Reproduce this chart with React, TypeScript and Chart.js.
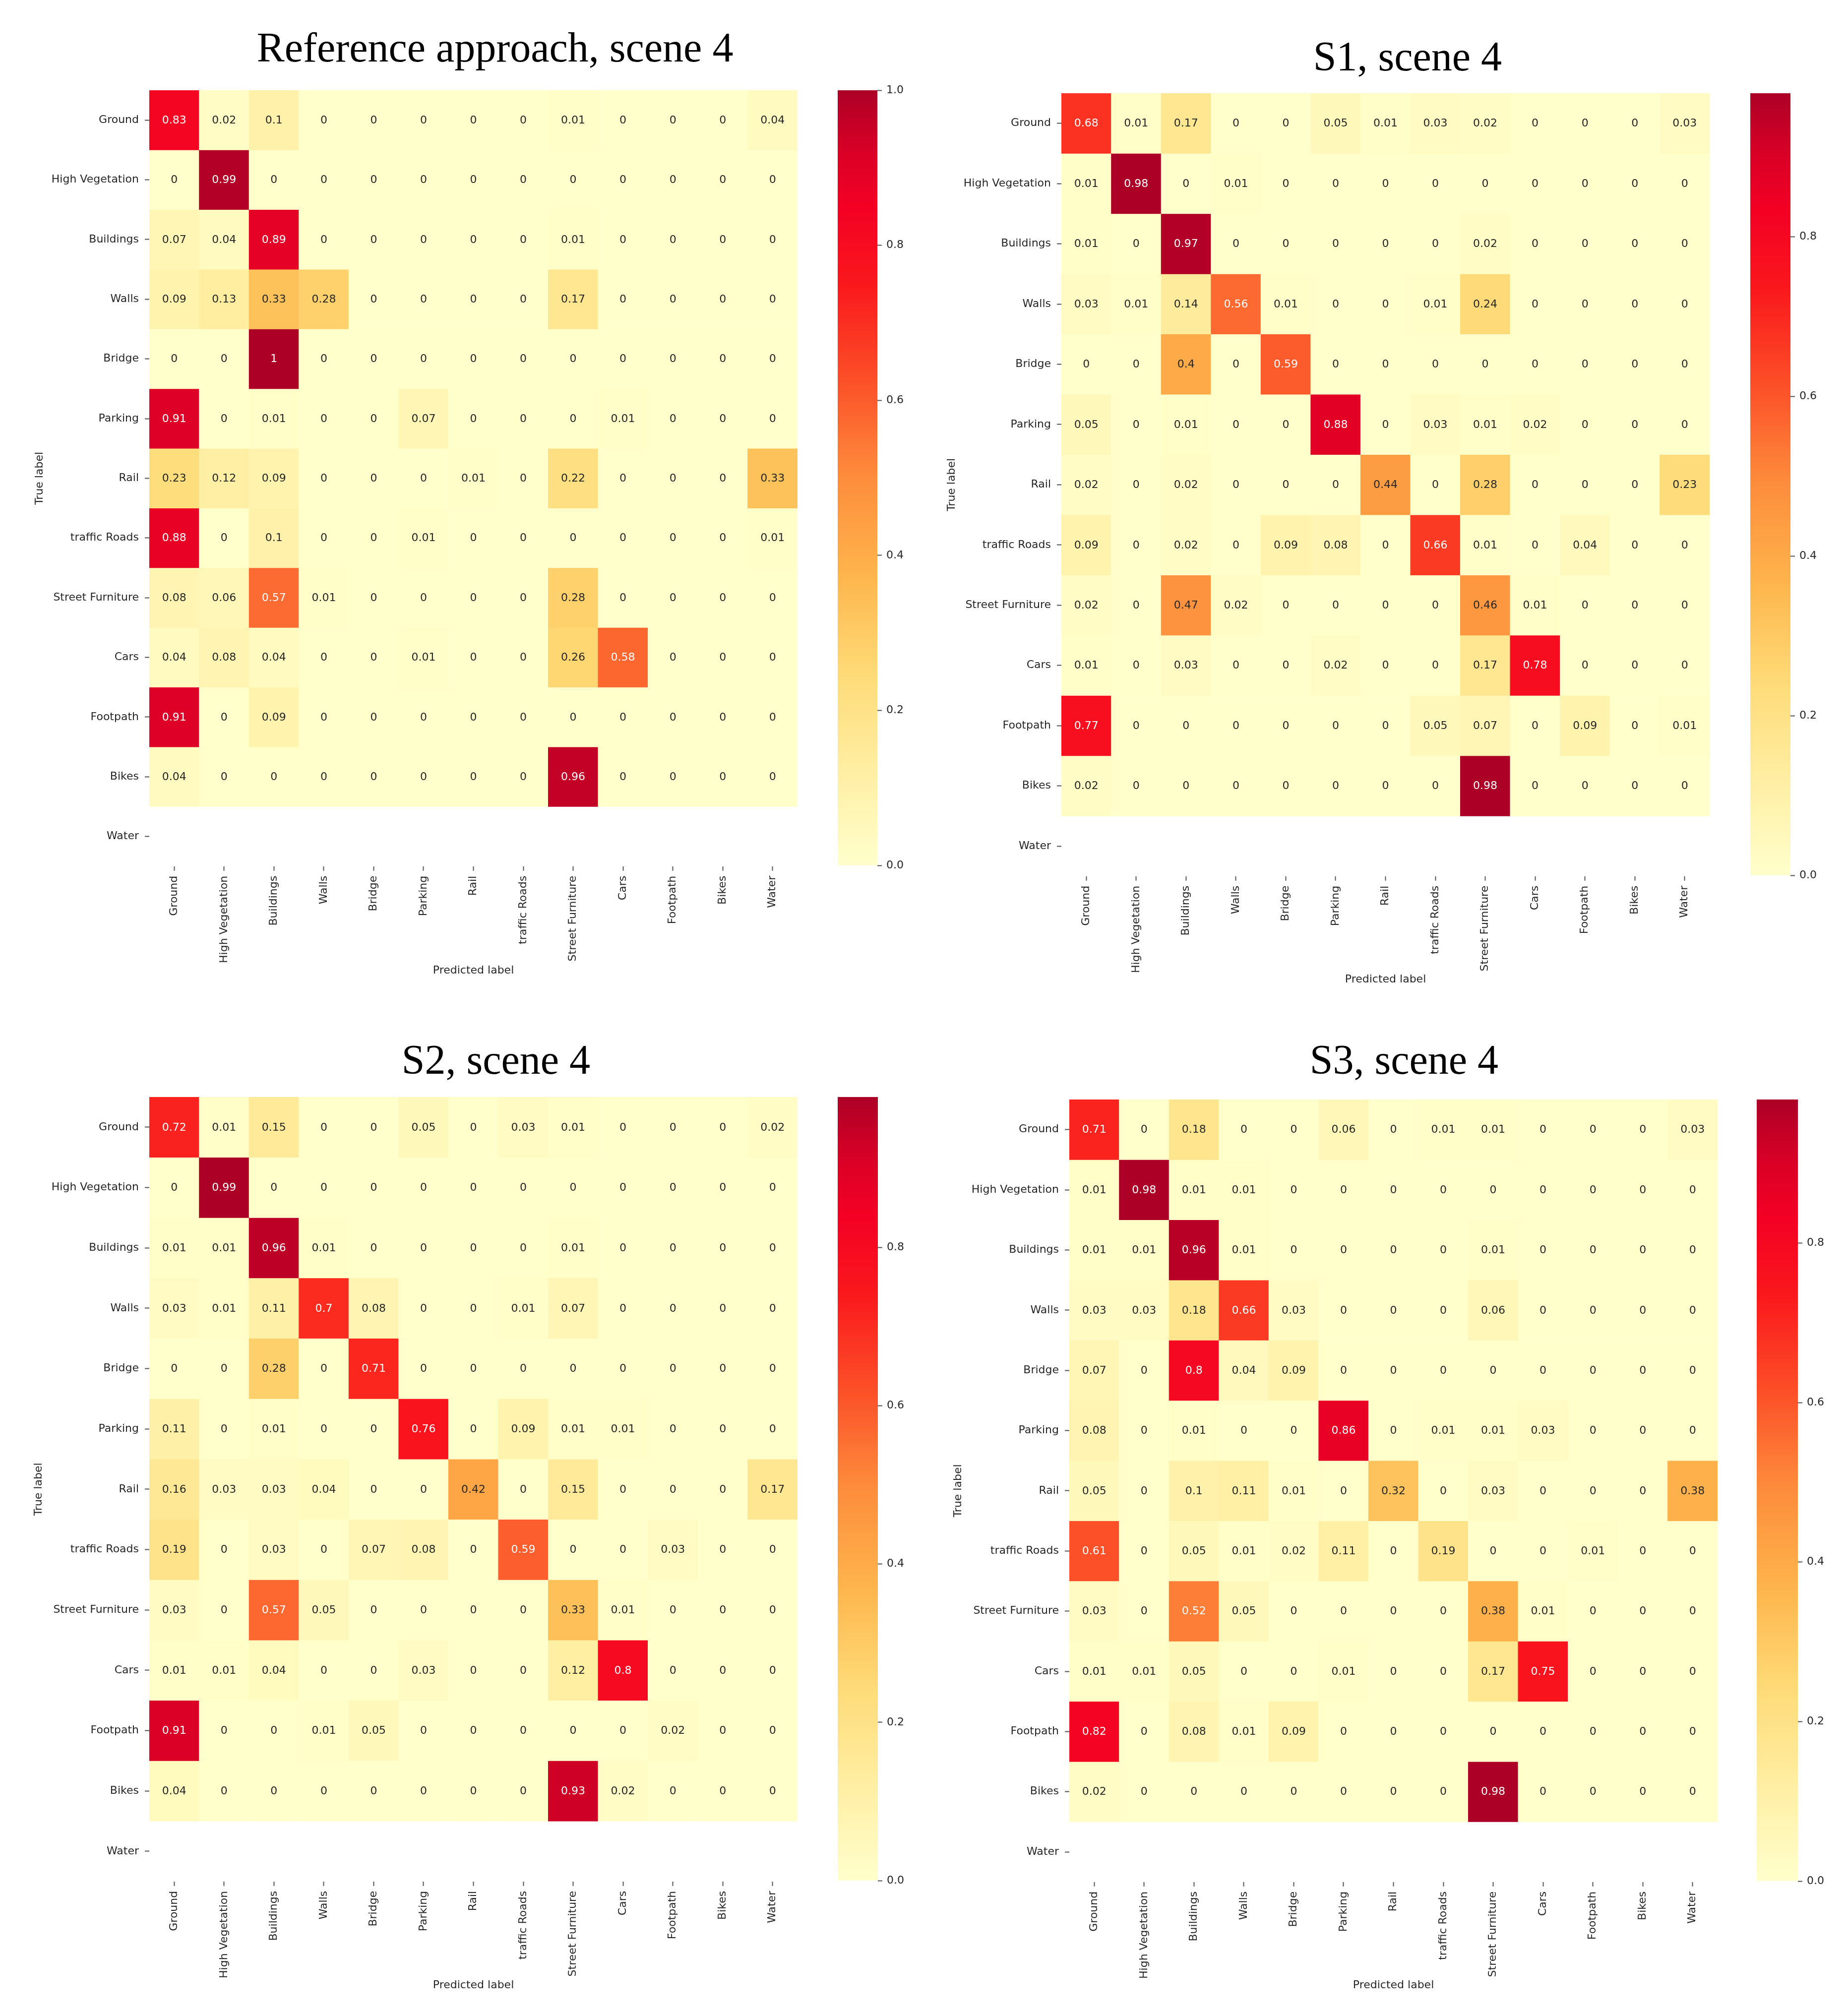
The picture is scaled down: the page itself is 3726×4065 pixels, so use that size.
import React, { useEffect, useRef } from 'react';
import { Chart, registerables } from 'chart.js';

Chart.register(...registerables);
Chart.defaults.font.family = '"DejaVu Sans", sans-serif';

// ---------------- data ----------------
const TRUE_LABELS = ['Ground', 'High Vegetation', 'Buildings', 'Walls', 'Bridge', 'Parking', 'Rail', 'traffic Roads', 'Street Furniture', 'Cars', 'Footpath', 'Bikes', 'Water'];
const PRED_LABELS = ['Ground', 'High Vegetation', 'Buildings', 'Walls', 'Bridge', 'Parking', 'Rail', 'traffic Roads', 'Street Furniture', 'Cars', 'Footpath', 'Bikes', 'Water'];

const TITLES = ['Reference approach, scene 4', 'S1, scene 4', 'S2, scene 4', 'S3, scene 4'];
const X_AXIS_TITLE = 'Predicted label';
const Y_AXIS_TITLE = 'True label';
const COLORBAR_STEP = 0.2;

// rows = true labels (Water row has no samples), columns = predicted labels
const REF_SCENE4 = [
  [0.83, 0.02, 0.1, 0, 0, 0, 0, 0, 0.01, 0, 0, 0, 0.04],
  [0, 0.99, 0, 0, 0, 0, 0, 0, 0, 0, 0, 0, 0],
  [0.07, 0.04, 0.89, 0, 0, 0, 0, 0, 0.01, 0, 0, 0, 0],
  [0.09, 0.13, 0.33, 0.28, 0, 0, 0, 0, 0.17, 0, 0, 0, 0],
  [0, 0, 1, 0, 0, 0, 0, 0, 0, 0, 0, 0, 0],
  [0.91, 0, 0.01, 0, 0, 0.07, 0, 0, 0, 0.01, 0, 0, 0],
  [0.23, 0.12, 0.09, 0, 0, 0, 0.01, 0, 0.22, 0, 0, 0, 0.33],
  [0.88, 0, 0.1, 0, 0, 0.01, 0, 0, 0, 0, 0, 0, 0.01],
  [0.08, 0.06, 0.57, 0.01, 0, 0, 0, 0, 0.28, 0, 0, 0, 0],
  [0.04, 0.08, 0.04, 0, 0, 0.01, 0, 0, 0.26, 0.58, 0, 0, 0],
  [0.91, 0, 0.09, 0, 0, 0, 0, 0, 0, 0, 0, 0, 0],
  [0.04, 0, 0, 0, 0, 0, 0, 0, 0.96, 0, 0, 0, 0],
];

const S1_SCENE4 = [
  [0.68, 0.01, 0.17, 0, 0, 0.05, 0.01, 0.03, 0.02, 0, 0, 0, 0.03],
  [0.01, 0.98, 0, 0.01, 0, 0, 0, 0, 0, 0, 0, 0, 0],
  [0.01, 0, 0.97, 0, 0, 0, 0, 0, 0.02, 0, 0, 0, 0],
  [0.03, 0.01, 0.14, 0.56, 0.01, 0, 0, 0.01, 0.24, 0, 0, 0, 0],
  [0, 0, 0.4, 0, 0.59, 0, 0, 0, 0, 0, 0, 0, 0],
  [0.05, 0, 0.01, 0, 0, 0.88, 0, 0.03, 0.01, 0.02, 0, 0, 0],
  [0.02, 0, 0.02, 0, 0, 0, 0.44, 0, 0.28, 0, 0, 0, 0.23],
  [0.09, 0, 0.02, 0, 0.09, 0.08, 0, 0.66, 0.01, 0, 0.04, 0, 0],
  [0.02, 0, 0.47, 0.02, 0, 0, 0, 0, 0.46, 0.01, 0, 0, 0],
  [0.01, 0, 0.03, 0, 0, 0.02, 0, 0, 0.17, 0.78, 0, 0, 0],
  [0.77, 0, 0, 0, 0, 0, 0, 0.05, 0.07, 0, 0.09, 0, 0.01],
  [0.02, 0, 0, 0, 0, 0, 0, 0, 0.98, 0, 0, 0, 0],
];

const S2_SCENE4 = [
  [0.72, 0.01, 0.15, 0, 0, 0.05, 0, 0.03, 0.01, 0, 0, 0, 0.02],
  [0, 0.99, 0, 0, 0, 0, 0, 0, 0, 0, 0, 0, 0],
  [0.01, 0.01, 0.96, 0.01, 0, 0, 0, 0, 0.01, 0, 0, 0, 0],
  [0.03, 0.01, 0.11, 0.7, 0.08, 0, 0, 0.01, 0.07, 0, 0, 0, 0],
  [0, 0, 0.28, 0, 0.71, 0, 0, 0, 0, 0, 0, 0, 0],
  [0.11, 0, 0.01, 0, 0, 0.76, 0, 0.09, 0.01, 0.01, 0, 0, 0],
  [0.16, 0.03, 0.03, 0.04, 0, 0, 0.42, 0, 0.15, 0, 0, 0, 0.17],
  [0.19, 0, 0.03, 0, 0.07, 0.08, 0, 0.59, 0, 0, 0.03, 0, 0],
  [0.03, 0, 0.57, 0.05, 0, 0, 0, 0, 0.33, 0.01, 0, 0, 0],
  [0.01, 0.01, 0.04, 0, 0, 0.03, 0, 0, 0.12, 0.8, 0, 0, 0],
  [0.91, 0, 0, 0.01, 0.05, 0, 0, 0, 0, 0, 0.02, 0, 0],
  [0.04, 0, 0, 0, 0, 0, 0, 0, 0.93, 0.02, 0, 0, 0],
];

const S3_SCENE4 = [
  [0.71, 0, 0.18, 0, 0, 0.06, 0, 0.01, 0.01, 0, 0, 0, 0.03],
  [0.01, 0.98, 0.01, 0.01, 0, 0, 0, 0, 0, 0, 0, 0, 0],
  [0.01, 0.01, 0.96, 0.01, 0, 0, 0, 0, 0.01, 0, 0, 0, 0],
  [0.03, 0.03, 0.18, 0.66, 0.03, 0, 0, 0, 0.06, 0, 0, 0, 0],
  [0.07, 0, 0.8, 0.04, 0.09, 0, 0, 0, 0, 0, 0, 0, 0],
  [0.08, 0, 0.01, 0, 0, 0.86, 0, 0.01, 0.01, 0.03, 0, 0, 0],
  [0.05, 0, 0.1, 0.11, 0.01, 0, 0.32, 0, 0.03, 0, 0, 0, 0.38],
  [0.61, 0, 0.05, 0.01, 0.02, 0.11, 0, 0.19, 0, 0, 0.01, 0, 0],
  [0.03, 0, 0.52, 0.05, 0, 0, 0, 0, 0.38, 0.01, 0, 0, 0],
  [0.01, 0.01, 0.05, 0, 0, 0.01, 0, 0, 0.17, 0.75, 0, 0, 0],
  [0.82, 0, 0.08, 0.01, 0.09, 0, 0, 0, 0, 0, 0, 0, 0],
  [0.02, 0, 0, 0, 0, 0, 0, 0, 0.98, 0, 0, 0, 0],
];

const MATRICES = [REF_SCENE4, S1_SCENE4, S2_SCENE4, S3_SCENE4];

// ---------------- styling / layout ----------------
const CMAP_STOPS: [number, [number, number, number]][] = [
  [0.0, [255, 255, 204]],
  [0.125, [255, 238, 162]],
  [0.25, [254, 218, 118]],
  [0.375, [254, 180, 76]],
  [0.5, [253, 141, 60]],
  [0.625, [252, 80, 40]],
  [0.75, [250, 24, 28]],
  [0.85, [243, 0, 36]],
  [0.92, [218, 0, 38]],
  [1.0, [172, 0, 38]],
];

function cmap(t: number): string {
  const x = Math.max(0, Math.min(1, t));
  for (let k = 1; k < CMAP_STOPS.length; k++) {
    const [p1, c1] = CMAP_STOPS[k];
    const [p0, c0] = CMAP_STOPS[k - 1];
    if (x <= p1) {
      const f = (x - p0) / (p1 - p0);
      const c = c0.map((v, i) => Math.round(v + (c1[i] - v) * f));
      return `rgb(${c[0]},${c[1]},${c[2]})`;
    }
  }
  const c = CMAP_STOPS[CMAP_STOPS.length - 1][1];
  return `rgb(${c[0]},${c[1]},${c[2]})`;
}

const TEXT_DARK = '#262626';
const TICK_COLOR = '#555555';
const FONT = { family: '"DejaVu Sans", sans-serif', size: 22 };

const LAYOUT = [
  { L: 301, T: 182, W: 1307, H: 1563, cbL: 1689, cbW: 80, titleX: 998, titleBase: 124, yTitleX: 80, xTitleY: 1955 },
  { L: 2140, T: 188, W: 1307, H: 1577, cbL: 3529, cbW: 81, titleX: 2838, titleBase: 142, yTitleX: 1919, xTitleY: 1973 },
  { L: 301, T: 2212, W: 1307, H: 1580, cbL: 1689, cbW: 81, titleX: 1000, titleBase: 2165, yTitleX: 78, xTitleY: 4001 },
  { L: 2156, T: 2217, W: 1307, H: 1576, cbL: 3542, cbW: 83, titleX: 2831, titleBase: 2165, yTitleX: 1932, xTitleY: 4001 },
];

const PAD_T = 30;
const PAD_R = 30;

function fmt(v: number): string {
  return String(Number(v.toFixed(2)));
}

function Heatmap({ idx }: { idx: number }) {
  const ref = useRef<HTMLCanvasElement | null>(null);
  const lay = LAYOUT[idx];
  const matrix = MATRICES[idx];
  const left = lay.yTitleX - 40;
  const YW = lay.L - left;
  const XH = lay.xTitleY - (lay.T + lay.H) + 13.2;
  const width = YW + lay.W + PAD_R;
  const height = PAD_T + lay.H + Math.round(XH) + 2;

  useEffect(() => {
    const vmax = Math.max(...matrix.flat());
    const datasets = TRUE_LABELS.map((lab, i) => {
      const row = matrix[i];
      return {
        label: lab,
        data: PRED_LABELS.map(() => (row ? 1 : null)),
        backgroundColor: PRED_LABELS.map((_, j) => (row ? cmap(row[j] / vmax) : 'rgba(0,0,0,0)')),
        borderWidth: 0,
        barPercentage: 1,
        categoryPercentage: 1,
      };
    });

    const cellText = {
      id: 'cellText',
      afterDatasetsDraw(chart: any) {
        const ctx = chart.ctx;
        ctx.save();
        ctx.font = `22px ${FONT.family}`;
        ctx.textAlign = 'center';
        ctx.textBaseline = 'middle';
        chart.data.datasets.forEach((_: any, i: number) => {
          const row = matrix[i];
          if (!row) return;
          const meta = chart.getDatasetMeta(i);
          meta.data.forEach((el: any, j: number) => {
            const p = el.getProps(['x', 'y', 'base'], true);
            const v = row[j];
            ctx.fillStyle = v / vmax > 0.5 ? '#ffffff' : TEXT_DARK;
            ctx.fillText(fmt(v), p.x, (p.y + p.base) / 2 + 1);
          });
        });
        ctx.restore();
      },
    };

    const chart = new Chart(ref.current as HTMLCanvasElement, {
      type: 'bar',
      data: { labels: PRED_LABELS, datasets },
      plugins: [cellText],
      options: {
        responsive: false,
        maintainAspectRatio: false,
        animation: false,
        events: [],
        layout: { padding: { top: PAD_T, right: PAD_R, left: 0, bottom: 0 } },
        plugins: { legend: { display: false }, tooltip: { enabled: false }, title: { display: false } },
        scales: {
          x: {
            type: 'category',
            stacked: true,
            offset: true,
            grid: { display: true, offset: false, drawOnChartArea: false, drawTicks: true, tickLength: 9, tickColor: TICK_COLOR, tickWidth: 2 },
            border: { display: false },
            ticks: { autoSkip: false, minRotation: 90, maxRotation: 90, padding: 10, color: TEXT_DARK, font: FONT },
            title: { display: true, text: X_AXIS_TITLE, color: TEXT_DARK, font: FONT, padding: { top: 0, bottom: 0 } },
            afterFit: (s: any) => { s.height = XH; },
          },
          y: {
            type: 'linear',
            stacked: true,
            reverse: true,
            min: 0,
            max: TRUE_LABELS.length,
            afterBuildTicks: (s: any) => { s.ticks = TRUE_LABELS.map((_, i) => ({ value: i + 0.5 })); },
            ticks: { autoSkip: false, padding: 12, color: TEXT_DARK, font: FONT, callback: (_v: any, i: number) => TRUE_LABELS[i] },
            grid: { display: true, drawOnChartArea: false, drawTicks: true, tickLength: 9, tickColor: TICK_COLOR, tickWidth: 2 },
            border: { display: false },
            title: { display: true, text: Y_AXIS_TITLE, color: TEXT_DARK, font: FONT, padding: { top: 27, bottom: 0 } },
            afterFit: (s: any) => { s.width = YW; },
          },
        },
      } as any,
    });
    return () => chart.destroy();
  }, []);

  return (
    <canvas
      ref={ref}
      width={width}
      height={height}
      style={{ position: 'absolute', left, top: lay.T - PAD_T, width, height, display: 'block' }}
    />
  );
}

function Colorbar({ idx }: { idx: number }) {
  const ref = useRef<HTMLCanvasElement | null>(null);
  const lay = LAYOUT[idx];
  const matrix = MATRICES[idx];
  const AXW = 100;
  const width = lay.cbW + AXW;
  const height = lay.H + 2 * PAD_T;

  useEffect(() => {
    const vmax = Math.max(...matrix.flat());
    const chart = new Chart(ref.current as HTMLCanvasElement, {
      type: 'bar',
      data: {
        labels: [''],
        datasets: [{
          data: [vmax],
          borderWidth: 0,
          barPercentage: 1,
          categoryPercentage: 1,
          backgroundColor: (c: any) => {
            const a = c.chart.chartArea;
            if (!a) return cmap(1);
            const g = c.chart.ctx.createLinearGradient(0, a.bottom, 0, a.top);
            const N = 60;
            for (let k = 0; k <= N; k++) g.addColorStop(k / N, cmap(k / N));
            return g;
          },
        }],
      },
      options: {
        responsive: false,
        maintainAspectRatio: false,
        animation: false,
        events: [],
        layout: { padding: { top: PAD_T, bottom: PAD_T, left: 0, right: 0 } },
        plugins: { legend: { display: false }, tooltip: { enabled: false } },
        scales: {
          x: { display: false },
          y: {
            position: 'right',
            min: 0,
            max: vmax,
            ticks: { stepSize: COLORBAR_STEP, includeBounds: false, padding: 9, color: TEXT_DARK, font: FONT, callback: (v: any) => Number(v).toFixed(1) },
            grid: { display: true, drawOnChartArea: false, drawTicks: true, tickLength: 9, tickColor: TICK_COLOR, tickWidth: 2 },
            border: { display: false },
            afterFit: (s: any) => { s.width = AXW; },
          },
        },
      } as any,
    });
    return () => chart.destroy();
  }, []);

  return (
    <canvas
      ref={ref}
      width={width}
      height={height}
      style={{ position: 'absolute', left: lay.cbL, top: lay.T - PAD_T, width, height, display: 'block' }}
    />
  );
}

function Title({ idx }: { idx: number }) {
  const lay = LAYOUT[idx];
  return (
    <div
      style={{
        position: 'absolute',
        left: lay.titleX - 1000,
        width: 2000,
        top: lay.titleBase - 70,
        textAlign: 'center',
        fontFamily: '"Liberation Serif", "Times New Roman", serif',
        fontSize: 84,
        lineHeight: '84px',
        color: '#000',
        whiteSpace: 'nowrap',
      }}
    >
      {TITLES[idx]}
    </div>
  );
}

export default function App() {
  return (
    <div style={{ position: 'absolute', left: 0, top: 0, width: 3726, height: 4065, background: '#ffffff', overflow: 'hidden' }}>
      {[0, 1, 2, 3].map((i) => (
        <React.Fragment key={i}>
          <Title idx={i} />
          <Heatmap idx={i} />
          <Colorbar idx={i} />
        </React.Fragment>
      ))}
    </div>
  );
}
